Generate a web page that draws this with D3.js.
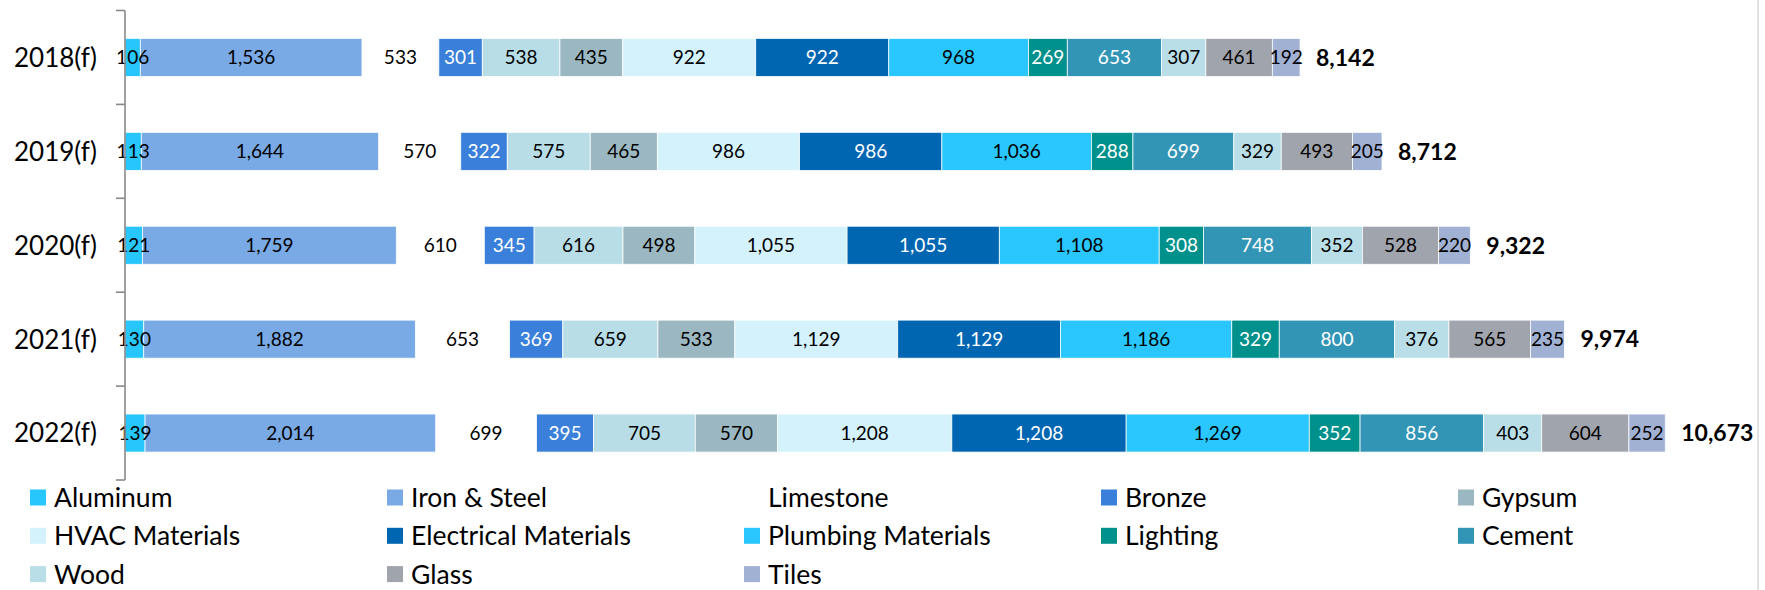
<!DOCTYPE html>
<html>
<head>
<meta charset="utf-8">
<script src="https://cdn.jsdelivr.net/npm/d3@7"></script>
<style>
  html, body { margin: 0; padding: 0; background: #fff; }
  svg { display: block; }
  text { font-family: Lato, "Open Sans", sans-serif; }
</style>
</head>
<body>
<svg id="chart" width="1765" height="590"></svg>
<script>
// ---- Data ----
const categories = ["2018(f)", "2019(f)", "2020(f)", "2021(f)", "2022(f)"];
const seriesNames = ["Aluminum", "Iron & Steel", "Limestone", "Bronze", "", "Gypsum",
  "HVAC Materials", "Electrical Materials", "Plumbing Materials", "Lighting", "Cement",
  "Wood", "Glass", "Tiles"];
const aluminum    = [106, 113, 121, 130, 139];
const ironSteel   = [1536, 1644, 1759, 1882, 2014];
const limestone   = [533, 570, 610, 653, 699];
const bronze      = [301, 322, 345, 369, 395];
const unlabeled   = [538, 575, 616, 659, 705];
const gypsum      = [435, 465, 498, 533, 570];
const hvac        = [922, 986, 1055, 1129, 1208];
const electrical  = [922, 986, 1055, 1129, 1208];
const plumbing    = [968, 1036, 1108, 1186, 1269];
const lighting    = [269, 288, 308, 329, 352];
const cement      = [653, 699, 748, 800, 856];
const wood        = [307, 329, 352, 376, 403];
const glass       = [461, 493, 528, 565, 604];
const tiles       = [192, 205, 220, 235, 252];
const totals      = [8142, 8712, 9322, 9974, 10673];
const legendOrder = ["Aluminum", "Iron & Steel", "Limestone", "Bronze", "Gypsum",
  "HVAC Materials", "Electrical Materials", "Plumbing Materials", "Lighting", "Cement",
  "Wood", "Glass", "Tiles"];

const seriesValues = [aluminum, ironSteel, limestone, bronze, unlabeled, gypsum, hvac,
  electrical, plumbing, lighting, cement, wood, glass, tiles];
const colors = ["#27c6fc", "#7aaae5", "none", "#3a80da", "#b8dde7", "#9bb8c2",
  "#d4f2fc", "#0066b2", "#2ac7fe", "#00918c", "#3395b6", "#b9dee7", "#a0a4ad", "#a1b1d4"];
const whiteText = [false, false, false, true, false, false, false, true, false, true, true, false, false, false];

// ---- Build table ----
const keys = seriesValues.map((_, i) => "s" + i);
const table = categories.map((c, j) => {
  const row = { cat: c };
  keys.forEach((k, i) => row[k] = seriesValues[i][j]);
  return row;
});
const stacked = d3.stack().keys(keys)(table);

const svg = d3.select("#chart");

const x = d3.scaleLinear().domain([0, 11000]).range([125, 125 + 11000 * 0.1443]);
const y = d3.scaleBand().domain(categories).range([10.5, 480])
  .paddingInner(0.595).paddingOuter(0.2975);
const yAxisBand = d3.scaleBand().domain(categories).range([10.5, 480]).padding(0);

// border at right
svg.append("line").attr("x1", 1758).attr("x2", 1758).attr("y1", 0).attr("y2", 590)
  .attr("stroke", "#d9d9d9").attr("stroke-width", 1.5);

// bars
const layers = svg.append("g").selectAll("g").data(stacked).join("g")
  .attr("fill", (d, i) => colors[i]);
layers.selectAll("rect").data(d => d).join("rect")
  .attr("x", d => x(d[0]))
  .attr("y", d => y(d.data.cat))
  .attr("width", d => x(d[1]) - x(d[0]))
  .attr("height", y.bandwidth())
  .attr("stroke", (d, i, n) => d3.select(n[i].parentNode).attr("fill") === "none" ? "none" : "#ffffff")
  .attr("stroke-width", 0.75);

// value labels
const labelG = svg.append("g");
stacked.forEach((layer, i) => {
  labelG.selectAll(null).data(layer).join("text")
    .attr("x", d => (x(d[0]) + x(d[1])) / 2)
    .attr("y", d => y(d.data.cat) + y.bandwidth() / 2)
    .attr("dy", "0.36em")
    .attr("text-anchor", "middle")
    .attr("font-size", 19)
    .attr("fill", whiteText[i] ? "#ffffff" : "#000000")
    .text(d => d3.format(",")(d[1] - d[0]));
});

// totals
svg.append("g").selectAll("text").data(stacked[stacked.length - 1]).join("text")
  .attr("x", d => x(d[1]) + 16)
  .attr("y", d => y(d.data.cat) + y.bandwidth() / 2)
  .attr("dy", "0.36em")
  .attr("font-size", 23)
  .attr("font-weight", "bold")
  .attr("fill", "#000")
  .text((d, j) => d3.format(",")(totals[j]));

// y axis
const axisG = svg.append("g").attr("stroke", "#898989").attr("stroke-width", 1.6);
axisG.append("line").attr("x1", 125).attr("x2", 125)
  .attr("y1", yAxisBand.range()[0]).attr("y2", yAxisBand.range()[1]);
const boundaries = categories.map(c => yAxisBand(c)).concat([yAxisBand.range()[1]]);
axisG.selectAll(".tick").data(boundaries).join("line")
  .attr("x1", 116).attr("x2", 125)
  .attr("y1", d => d).attr("y2", d => d);

svg.append("g").selectAll("text").data(categories).join("text")
  .attr("x", 97)
  .attr("y", d => y(d) + y.bandwidth() / 2)
  .attr("dy", "0.36em")
  .attr("text-anchor", "end")
  .attr("font-size", 26)
  .attr("fill", "#000")
  .text(d => d);

// legend
const legendCols = 5, colW = 357, legendX0 = 30, legendY0 = 497.5, rowH = 38.3;
const legend = svg.append("g").selectAll("g").data(legendOrder).join("g")
  .attr("transform", (d, i) => `translate(${legendX0 + (i % legendCols) * colW},${legendY0 + Math.floor(i / legendCols) * rowH})`);
legend.append("rect")
  .attr("x", 0).attr("y", -8).attr("width", 16).attr("height", 16)
  .attr("fill", d => colors[seriesNames.indexOf(d)]);
legend.append("text")
  .attr("x", 24).attr("y", 0).attr("dy", "0.36em")
  .attr("font-size", 26.5)
  .attr("fill", "#000")
  .text(d => d);
</script>
</body>
</html>
